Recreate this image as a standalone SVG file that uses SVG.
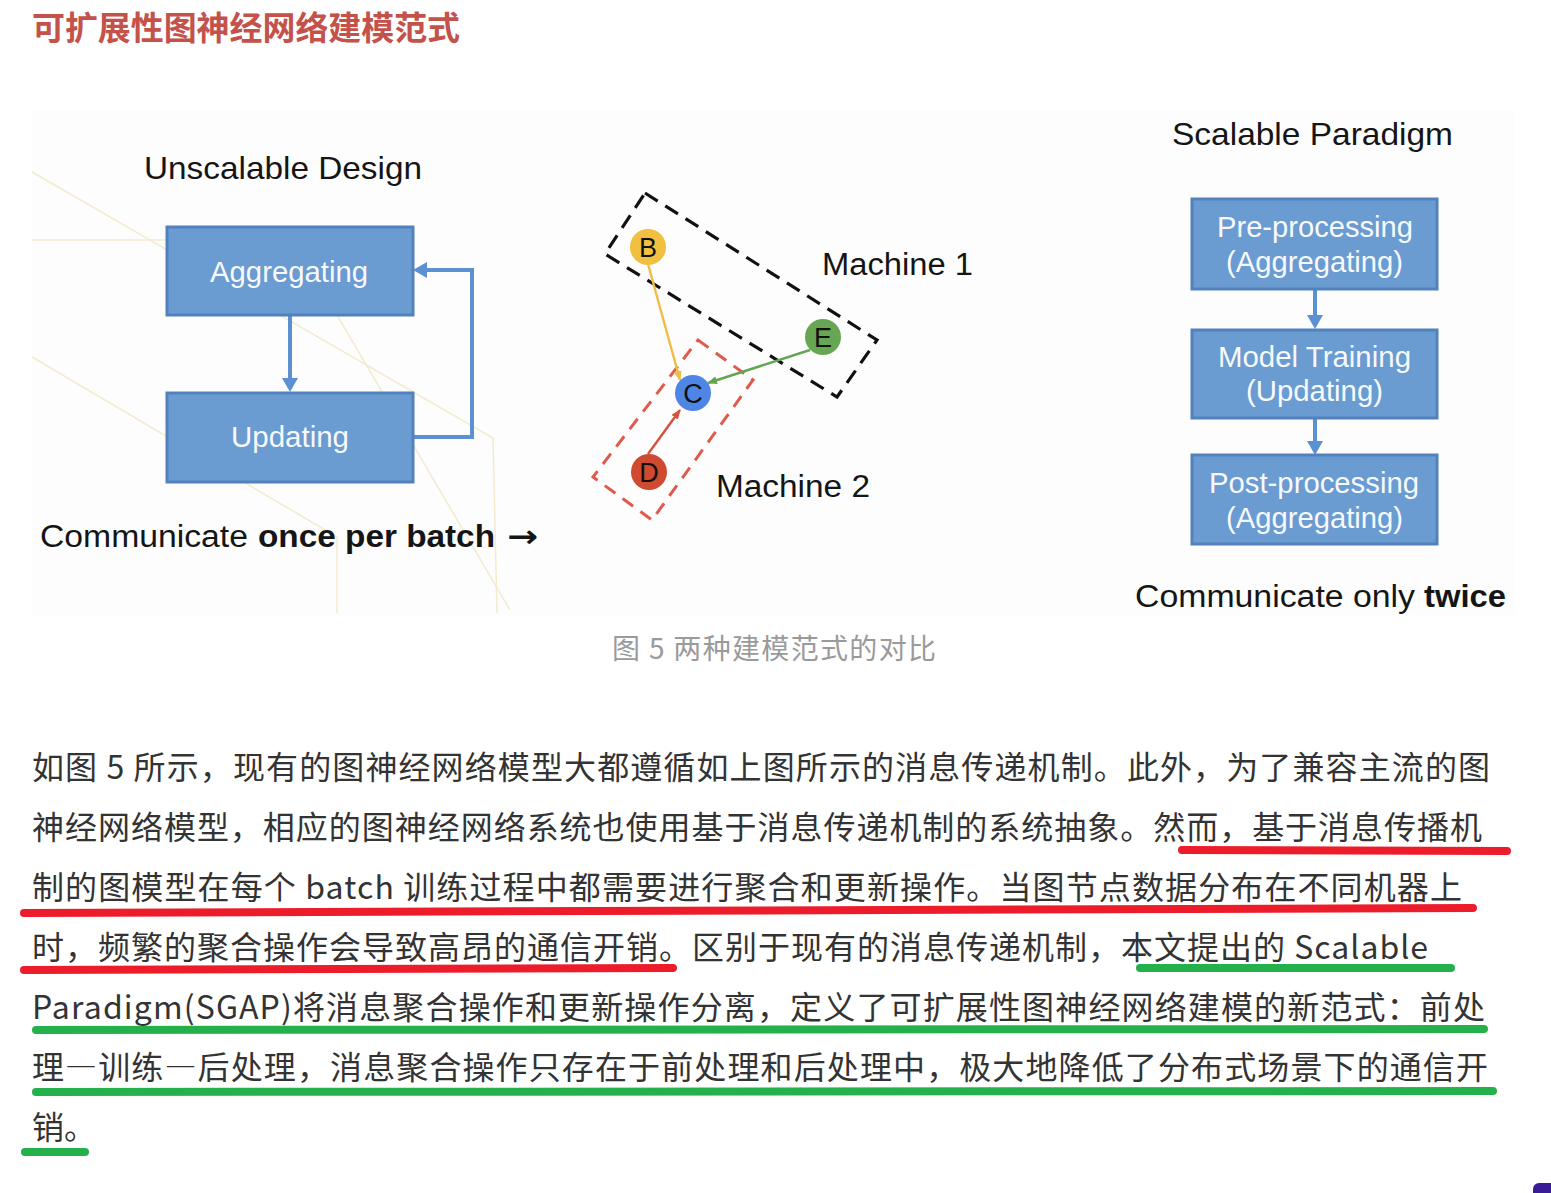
<svg xmlns="http://www.w3.org/2000/svg" width="1551" height="1193" viewBox="0 0 1551 1193">
<style>
.fig{font-family:"Liberation Sans",Arial,sans-serif;fill:#151515}
.box{fill:#6a9bd1;stroke:#5282bd;stroke-width:3}
.bt{font-family:"Liberation Sans",Arial,sans-serif;font-size:29px;fill:#f7f9fc}
.flow{fill:none;stroke:#5b90d2;stroke-width:4}
.bg{fill:none;stroke:#f3ead0;stroke-width:1.5}
.nl{font-family:"Liberation Sans",Arial,sans-serif;font-size:27px;fill:#111;text-anchor:middle}
.para{font-family:"Noto Sans CJK SC","Noto Sans",sans-serif;font-size:32px;fill:#333}
.ul{fill:none;stroke-width:8;stroke-linecap:round}
.red{stroke:#ec1c2b}
.green{stroke:#24b04b}
.fw{font-feature-settings:"fwid"}
</style>
<defs>
<marker id="ab" viewBox="0 0 14 16" refX="10" refY="8" markerWidth="14" markerHeight="16" markerUnits="userSpaceOnUse" orient="auto"><path d="M0,0 L14,8 L0,16 z" fill="#5b90d2"/></marker>
<marker id="ay" viewBox="0 0 10 8" refX="9" refY="4" markerWidth="10" markerHeight="8" markerUnits="userSpaceOnUse" orient="auto"><path d="M0,0 L10,4 L0,8 z" fill="#efbd45"/></marker>
<marker id="ag" viewBox="0 0 10 8" refX="9" refY="4" markerWidth="10" markerHeight="8" markerUnits="userSpaceOnUse" orient="auto"><path d="M0,0 L10,4 L0,8 z" fill="#62a553"/></marker>
<marker id="ar" viewBox="0 0 10 8" refX="9" refY="4" markerWidth="10" markerHeight="8" markerUnits="userSpaceOnUse" orient="auto"><path d="M0,0 L10,4 L0,8 z" fill="#d4533c"/></marker>
</defs>
<rect width="1551" height="1193" fill="#ffffff"/>
<text x="32" y="40" font-family="'Noto Sans CJK SC',sans-serif" font-size="33" font-weight="bold" fill="#c4524b" textLength="428" lengthAdjust="spacingAndGlyphs">可扩展性图神经网络建模范式</text>

<g id="figure">
<rect x="32" y="110" width="1483" height="505" fill="#fdfdfd"/>
<g id="background-lines">
<path class="bg" d="M32,172 L493,438 L497,613"/>
<path class="bg" d="M32,240 L167,240"/>
<path class="bg" d="M32,357 L337,537 L337,613"/>
<path class="bg" d="M337,315 L510,610"/>
</g>
<text class="fig" x="144" y="179" font-size="32" textLength="278" lengthAdjust="spacingAndGlyphs">Unscalable Design</text>
<text class="fig" x="1172" y="145" font-size="32" textLength="281" lengthAdjust="spacingAndGlyphs">Scalable Paradigm</text>

<g id="machine-groups">
<polygon points="645,193 877,340 837,397 605,254" fill="none" stroke="#111" stroke-width="3.2" stroke-dasharray="15 9"/>
<polygon points="698,340 753,380 652,520 593,477" fill="none" stroke="#df5a4c" stroke-width="3" stroke-dasharray="13 9"/>
</g>
<text class="fig" x="822" y="275" font-size="31" textLength="151" lengthAdjust="spacingAndGlyphs">Machine 1</text>
<text class="fig" x="716" y="497" font-size="31" textLength="154" lengthAdjust="spacingAndGlyphs">Machine 2</text>

<g id="connectors">
<path class="flow" d="M290,316 L290,388" marker-end="url(#ab)"/>
<path class="flow" d="M413,437 L472,437 L472,270 L417,270" marker-end="url(#ab)"/>
<path class="flow" d="M1315,290 L1315,325" marker-end="url(#ab)"/>
<path class="flow" d="M1315,419 L1315,451" marker-end="url(#ab)"/>
<path d="M648,264 L680,380" stroke="#efbd45" stroke-width="2.4" fill="none" marker-end="url(#ay)"/>
<path d="M810,350 L708,383" stroke="#62a553" stroke-width="2.4" fill="none" marker-end="url(#ag)"/>
<path d="M648,454 L680,410" stroke="#d4533c" stroke-width="2.4" fill="none" marker-end="url(#ar)"/>
</g>

<g id="node-aggregating">
<rect class="box" x="167" y="227" width="246" height="88"/>
<text class="bt" x="210" y="282" textLength="158" lengthAdjust="spacingAndGlyphs">Aggregating</text>
</g>
<g id="node-updating">
<rect class="box" x="167" y="393" width="246" height="89"/>
<text class="bt" x="231" y="447" textLength="118" lengthAdjust="spacingAndGlyphs">Updating</text>
</g>
<text class="fig" y="547" font-size="31"><tspan x="40" textLength="208" lengthAdjust="spacingAndGlyphs">Communicate</tspan> <tspan x="258" font-weight="bold" textLength="237" lengthAdjust="spacingAndGlyphs">once per batch</tspan> <tspan x="507" font-weight="bold" font-family="'DejaVu Sans',sans-serif" textLength="31" lengthAdjust="spacingAndGlyphs">→</tspan></text>

<g id="node-B"><circle cx="648" cy="247" r="18" fill="#f1c040"/><text class="nl" x="648" y="257">B</text></g>
<g id="node-E"><circle cx="823" cy="337" r="18" fill="#67a653"/><text class="nl" x="823" y="347">E</text></g>
<g id="node-C"><circle cx="693" cy="393" r="18" fill="#4f86e6"/><text class="nl" x="693" y="403">C</text></g>
<g id="node-D"><circle cx="649" cy="472" r="18" fill="#cf4a30"/><text class="nl" x="649" y="482">D</text></g>

<g id="node-preprocessing">
<rect class="box" x="1192" y="199" width="245" height="90"/>
<text class="bt" x="1217" y="237" textLength="196" lengthAdjust="spacingAndGlyphs">Pre-processing</text>
<text class="bt" x="1226" y="272" textLength="177" lengthAdjust="spacingAndGlyphs">(Aggregating)</text>
</g>
<g id="node-training">
<rect class="box" x="1192" y="330" width="245" height="88"/>
<text class="bt" x="1218" y="367" textLength="193" lengthAdjust="spacingAndGlyphs">Model Training</text>
<text class="bt" x="1246" y="401" textLength="137" lengthAdjust="spacingAndGlyphs">(Updating)</text>
</g>
<g id="node-postprocessing">
<rect class="box" x="1192" y="455" width="245" height="89"/>
<text class="bt" x="1209" y="493" textLength="210" lengthAdjust="spacingAndGlyphs">Post-processing</text>
<text class="bt" x="1226" y="528" textLength="177" lengthAdjust="spacingAndGlyphs">(Aggregating)</text>
</g>
<text class="fig" y="607" font-size="31"><tspan x="1135" textLength="280" lengthAdjust="spacingAndGlyphs">Communicate only</tspan> <tspan x="1424" font-weight="bold" textLength="82" lengthAdjust="spacingAndGlyphs">twice</tspan></text>
</g>

<text x="612" y="659" font-family="'Noto Sans CJK SC',sans-serif" font-size="28" fill="#9a9a9a" textLength="324" lengthAdjust="spacing">图 5 两种建模范式的对比</text>

<g id="highlights">
<path class="ul red" d="M1182,850 L1507,851"/>
<path class="ul red" d="M24,913 L1473,908"/>
<path class="ul red" d="M24,970 L673,968"/>
<path class="ul green" d="M1140,968 L1451,968"/>
<path class="ul green" d="M36,1030 L1484,1029"/>
<path class="ul green" d="M36,1092 L1493,1091"/>
<path class="ul green" d="M25,1152 L85,1152"/>
</g>

<g id="paragraph">
<text class="para" x="32" y="779" textLength="1458" lengthAdjust="spacing">如图 5 所示，现有的图神经网络模型大都遵循如上图所示的消息传递机制。此外，为了兼容主流的图</text>
<text class="para" x="32" y="839" textLength="1450" lengthAdjust="spacing">神经网络模型，相应的图神经网络系统也使用基于消息传递机制的系统抽象。然而，基于消息传播机</text>
<text class="para" x="32" y="899" textLength="1430" lengthAdjust="spacing">制的图模型在每个 batch 训练过程中都需要进行聚合和更新操作。当图节点数据分布在不同机器上</text>
<text class="para" x="32" y="959" textLength="1396" lengthAdjust="spacing">时，频繁的聚合操作会导致高昂的通信开销。区别于现有的消息传递机制，本文提出的 Scalable</text>
<text class="para" x="32" y="1019" textLength="1453" lengthAdjust="spacing">Paradigm(SGAP)将消息聚合操作和更新操作分离，定义了可扩展性图神经网络建模的新范式：前处</text>
<text class="para" x="32" y="1079" textLength="1456" lengthAdjust="spacing">理<tspan class="fw">—</tspan>训练<tspan class="fw">—</tspan>后处理，消息聚合操作只存在于前处理和后处理中，极大地降低了分布式场景下的通信开</text>
<text class="para" x="32" y="1139">销。</text>
</g>
<rect x="1533" y="1183" width="30" height="20" rx="6" fill="#3a1d96"/>
</svg>
